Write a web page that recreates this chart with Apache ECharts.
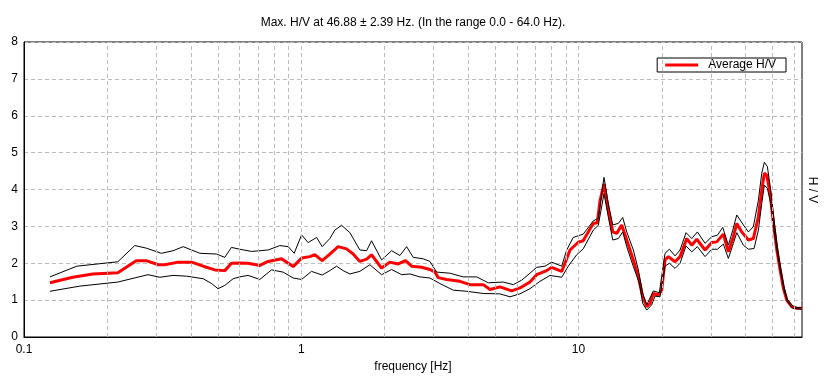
<!DOCTYPE html>
<html>
<head>
<meta charset="utf-8">
<script src="https://cdn.jsdelivr.net/npm/echarts@6/dist/echarts.min.js"></script>
<style>
html,body{margin:0;padding:0;background:#fff;}
#chart{width:826px;height:381px;}
</style>
</head>
<body>
<div id="chart"></div>
<script>
var titleText = 'Max. H/V at 46.88 \u00b1 2.39 Hz. (In the range 0.0 - 64.0 Hz).';
var xName = 'frequency [Hz]';
var yName = 'H / V';
var legendName = 'Average H/V';
var yTicks = [0, 1, 2, 3, 4, 5, 6, 7, 8];
var xMin = 0.1, xMax = 64;
var gridFreqs = [0.2,0.3,0.4,0.5,0.6,0.7,0.8,0.9,1,2,3,4,5,6,7,8,9,10,20,30,40,50,60];

var meanFreq = [0.124,0.150,0.177,0.218,0.254,0.276,0.305,0.322,0.360,0.402,0.443,0.488,0.530,0.560,0.600,
  0.643,0.709,0.760,0.849,0.935,1.003,1.074,1.120,1.190,1.268,1.359,1.457,1.539,1.627,1.721,1.793,1.949,2.087,2.237,2.378,2.500,2.717,
  2.911,3.035,3.119,3.345,3.737,4.06,4.535,4.794,5.209,5.741,6.151,6.683,7.067,7.678,8.003,8.698,8.94,9.318,9.98,10.40,11.0,11.31,11.69,11.96,
  12.36,12.81,13.29,13.74,14.32,14.93,15.77,16.44,17.05,17.63,18.11,18.62,19.41,19.96,20.52,21.09,22.30,23.25,24.57,25.62,26.71,28.61,30.25,31.53,
  33.31,34.72,36.19,37.23,38.80,41.0,42.73,44.55,45.82,46.82,47.77,49.10,50.47,51.92,53.36,54.84,56.41,58.80,61.29,63.9];
var meanVal = [1.47,1.62,1.71,1.74,2.07,2.07,1.96,1.96,2.03,2.03,1.92,1.82,1.80,2.00,2.01,
  2.00,1.94,2.05,2.12,1.91,2.14,2.18,2.23,2.07,2.25,2.45,2.39,2.25,2.05,2.11,2.23,1.87,2.03,1.98,2.07,1.92,1.89,
  1.83,1.76,1.61,1.56,1.51,1.42,1.42,1.29,1.36,1.25,1.33,1.49,1.69,1.80,1.89,1.78,2.00,2.36,2.57,2.61,2.93,3.08,3.10,3.70,
  4.15,3.44,2.85,2.81,3.04,2.63,2.09,1.63,1.09,0.82,0.91,1.18,1.14,1.27,2.09,2.18,2.04,2.18,2.67,2.49,2.65,2.36,2.56,2.58,
  2.79,2.31,2.72,3.08,2.85,2.63,2.67,3.26,3.98,4.44,4.39,3.89,3.08,2.36,1.82,1.32,1.00,0.82,0.78,0.78];

var upperFreq = [0.124,0.155,0.218,0.251,0.276,0.313,0.345,0.375,0.431,0.495,0.530,0.560,0.600,0.662,0.760,0.837,0.897,0.943,
  1.003,1.059,1.136,1.190,1.268,1.322,1.398,1.498,1.627,1.721,1.793,1.949,2.118,2.269,2.399,2.534,2.754,2.911,3.078,3.438,3.84,4.293,
  4.727,5.354,5.818,6.237,6.683,7.067,7.571,8.003,8.698,9.066,9.576,10.40,11.31,11.79,12.36,12.81,13.29,13.92,14.44,14.93,15.77,16.44,
  17.05,17.63,18.62,19.57,20.52,21.27,22.30,23.25,24.43,25.62,26.84,28.61,30.25,31.69,33.14,34.72,36.02,37.23,39.32,41.0,42.73,44.55,
  45.82,46.82,48.0,49.38,50.76,52.18,53.66,55.15,56.69,59.29,61.29,63.9];
var upperVal = [1.63,1.92,2.04,2.48,2.41,2.27,2.34,2.45,2.27,2.25,2.16,2.43,2.38,2.32,2.36,2.48,2.45,2.27,
  2.77,2.56,2.70,2.45,2.67,2.90,3.03,2.83,2.36,2.34,2.61,2.09,2.34,2.21,2.45,2.16,2.12,2.05,1.76,1.73,1.63,1.63,
  1.47,1.49,1.42,1.54,1.73,1.89,1.92,2.03,1.92,2.36,2.70,2.79,3.15,3.22,4.33,3.62,3.04,3.08,3.24,2.85,2.36,1.82,
  1.18,0.87,1.25,1.20,2.27,2.38,2.20,2.36,2.83,2.67,2.85,2.54,2.72,2.76,2.97,2.49,2.90,3.31,3.04,2.85,2.99,3.71,
  4.44,4.74,4.62,3.98,3.17,2.45,1.86,1.36,1.02,0.84,0.80,0.80];

var lowerFreq = [0.124,0.159,0.218,0.280,0.309,0.345,0.386,0.443,0.475,0.501,0.530,0.568,0.600,0.643,0.709,0.781,0.860,0.935,
  1.003,1.089,1.190,1.268,1.341,1.416,1.498,1.627,1.768,1.949,2.118,2.301,2.466,2.679,2.911,3.164,3.534,3.95,4.535,5.209,5.661,6.151,
  6.683,7.263,7.89,8.698,9.188,9.851,10.40,11.31,11.79,12.36,12.81,13.29,13.92,14.44,14.93,15.77,16.58,17.05,17.63,18.37,18.88,19.68,
  20.52,21.27,22.30,23.25,24.43,25.62,26.84,28.61,30.25,31.69,33.31,34.72,36.19,37.23,39.32,41.0,42.98,44.55,45.82,46.82,48.0,49.38,
  50.76,52.18,53.66,55.15,56.69,59.29,63.9];
var lowerVal = [1.24,1.38,1.49,1.69,1.62,1.67,1.65,1.58,1.45,1.31,1.40,1.58,1.63,1.67,1.56,1.82,1.76,1.60,
  1.56,1.78,1.68,1.80,1.92,1.80,1.71,1.78,1.96,1.69,1.83,1.69,1.71,1.63,1.60,1.45,1.27,1.24,1.18,1.17,1.09,1.17,
  1.31,1.51,1.67,1.62,1.92,2.23,2.39,2.90,3.03,3.89,3.26,2.63,2.67,2.85,2.45,1.91,1.46,0.91,0.73,0.87,1.11,1.09,
  1.92,2.00,1.86,2.00,2.47,2.31,2.45,2.18,2.38,2.38,2.52,2.13,2.54,2.83,2.49,2.38,2.40,2.90,
  3.62,4.12,4.03,3.62,2.90,2.27,1.73,1.27,0.96,0.78,0.75];

function pairs(fs, vs) { return fs.map(function (f, i) { return [f, vs[i]]; }); }

var FONT = '"Liberation Sans", Arial, sans-serif';
var chart = echarts.init(document.getElementById('chart'), null, {renderer: 'canvas'});
var option = {
  animation: false,
  backgroundColor: '#fff',
  textStyle: {fontFamily: FONT},
  title: {
    text: titleText, left: 'center', top: 12,
    textStyle: {fontSize: 12, fontWeight: 'normal', color: '#000', fontFamily: FONT}
  },
  legend: {
    data: [{name: legendName, icon: 'rect'}],
    right: 40, top: 58,
    itemWidth: 33, itemHeight: 3,
    backgroundColor: '#fff', borderColor: '#000', borderWidth: 1, borderRadius: 0,
    padding: [1, 10, 1, 8],
    textStyle: {fontSize: 12, color: '#000', fontFamily: FONT, padding: [0, 0, 0, 5]}
  },
  grid: {left: 24, right: 24, top: 42, bottom: 44, show: true, borderColor: '#000', borderWidth: 1, backgroundColor: 'transparent'},
  xAxis: {
    type: 'log', logBase: 10, min: xMin, max: xMax,
    name: xName, nameLocation: 'middle', nameGap: 15,
    nameTextStyle: {fontSize: 12, color: '#000', fontFamily: FONT},
    axisLine: {show: true, lineStyle: {color: '#000', width: 1}},
    axisTick: {show: false},
    splitLine: {show: false},
    axisLabel: {
      color: '#000', fontSize: 12, margin: 7, fontFamily: FONT,
      showMaxLabel: false,
      formatter: function (v) {
        var l = Math.log10(v);
        if (Math.abs(l - Math.round(l)) > 1e-6) return '';
        return String(Number(Math.pow(10, Math.round(l)).toPrecision(6)));
      }
    }
  },
  yAxis: {
    type: 'value', min: yTicks[0], max: yTicks[yTicks.length - 1], interval: 1,
    axisLine: {show: true, lineStyle: {color: '#000', width: 1}},
    axisTick: {show: false},
    axisLabel: {color: '#000', fontSize: 12, margin: 6, fontFamily: FONT},
    splitLine: {show: true, lineStyle: {color: '#bdbdbd', type: [4, 3], width: 1}}
  },
  graphic: [{
    type: 'text', x: 812, y: 190, rotation: -Math.PI / 2,
    style: {text: yName, fill: '#000', font: '12px ' + FONT, align: 'center', verticalAlign: 'middle'}
  }],
  series: [
    {
      name: legendName, type: 'line', data: pairs(meanFreq, meanVal),
      showSymbol: false, symbol: 'none', z: 2,
      lineStyle: {color: '#ff0000', width: 3}, itemStyle: {color: '#ff0000'},
      markLine: {
        silent: true, symbol: ['none', 'none'], animation: false,
        label: {show: false},
        lineStyle: {color: '#bdbdbd', type: [4, 3], width: 1},
        data: gridFreqs.map(function (f) { return {xAxis: f}; })
      }
    },
    {
      name: 'upper', type: 'line', data: pairs(upperFreq, upperVal),
      showSymbol: false, symbol: 'none', z: 3,
      lineStyle: {color: '#000', width: 1}, itemStyle: {color: '#000'}
    },
    {
      name: 'lower', type: 'line', data: pairs(lowerFreq, lowerVal),
      showSymbol: false, symbol: 'none', z: 3,
      lineStyle: {color: '#000', width: 1}, itemStyle: {color: '#000'}
    }
  ]
};
chart.setOption(option);
</script>
</body>
</html>
